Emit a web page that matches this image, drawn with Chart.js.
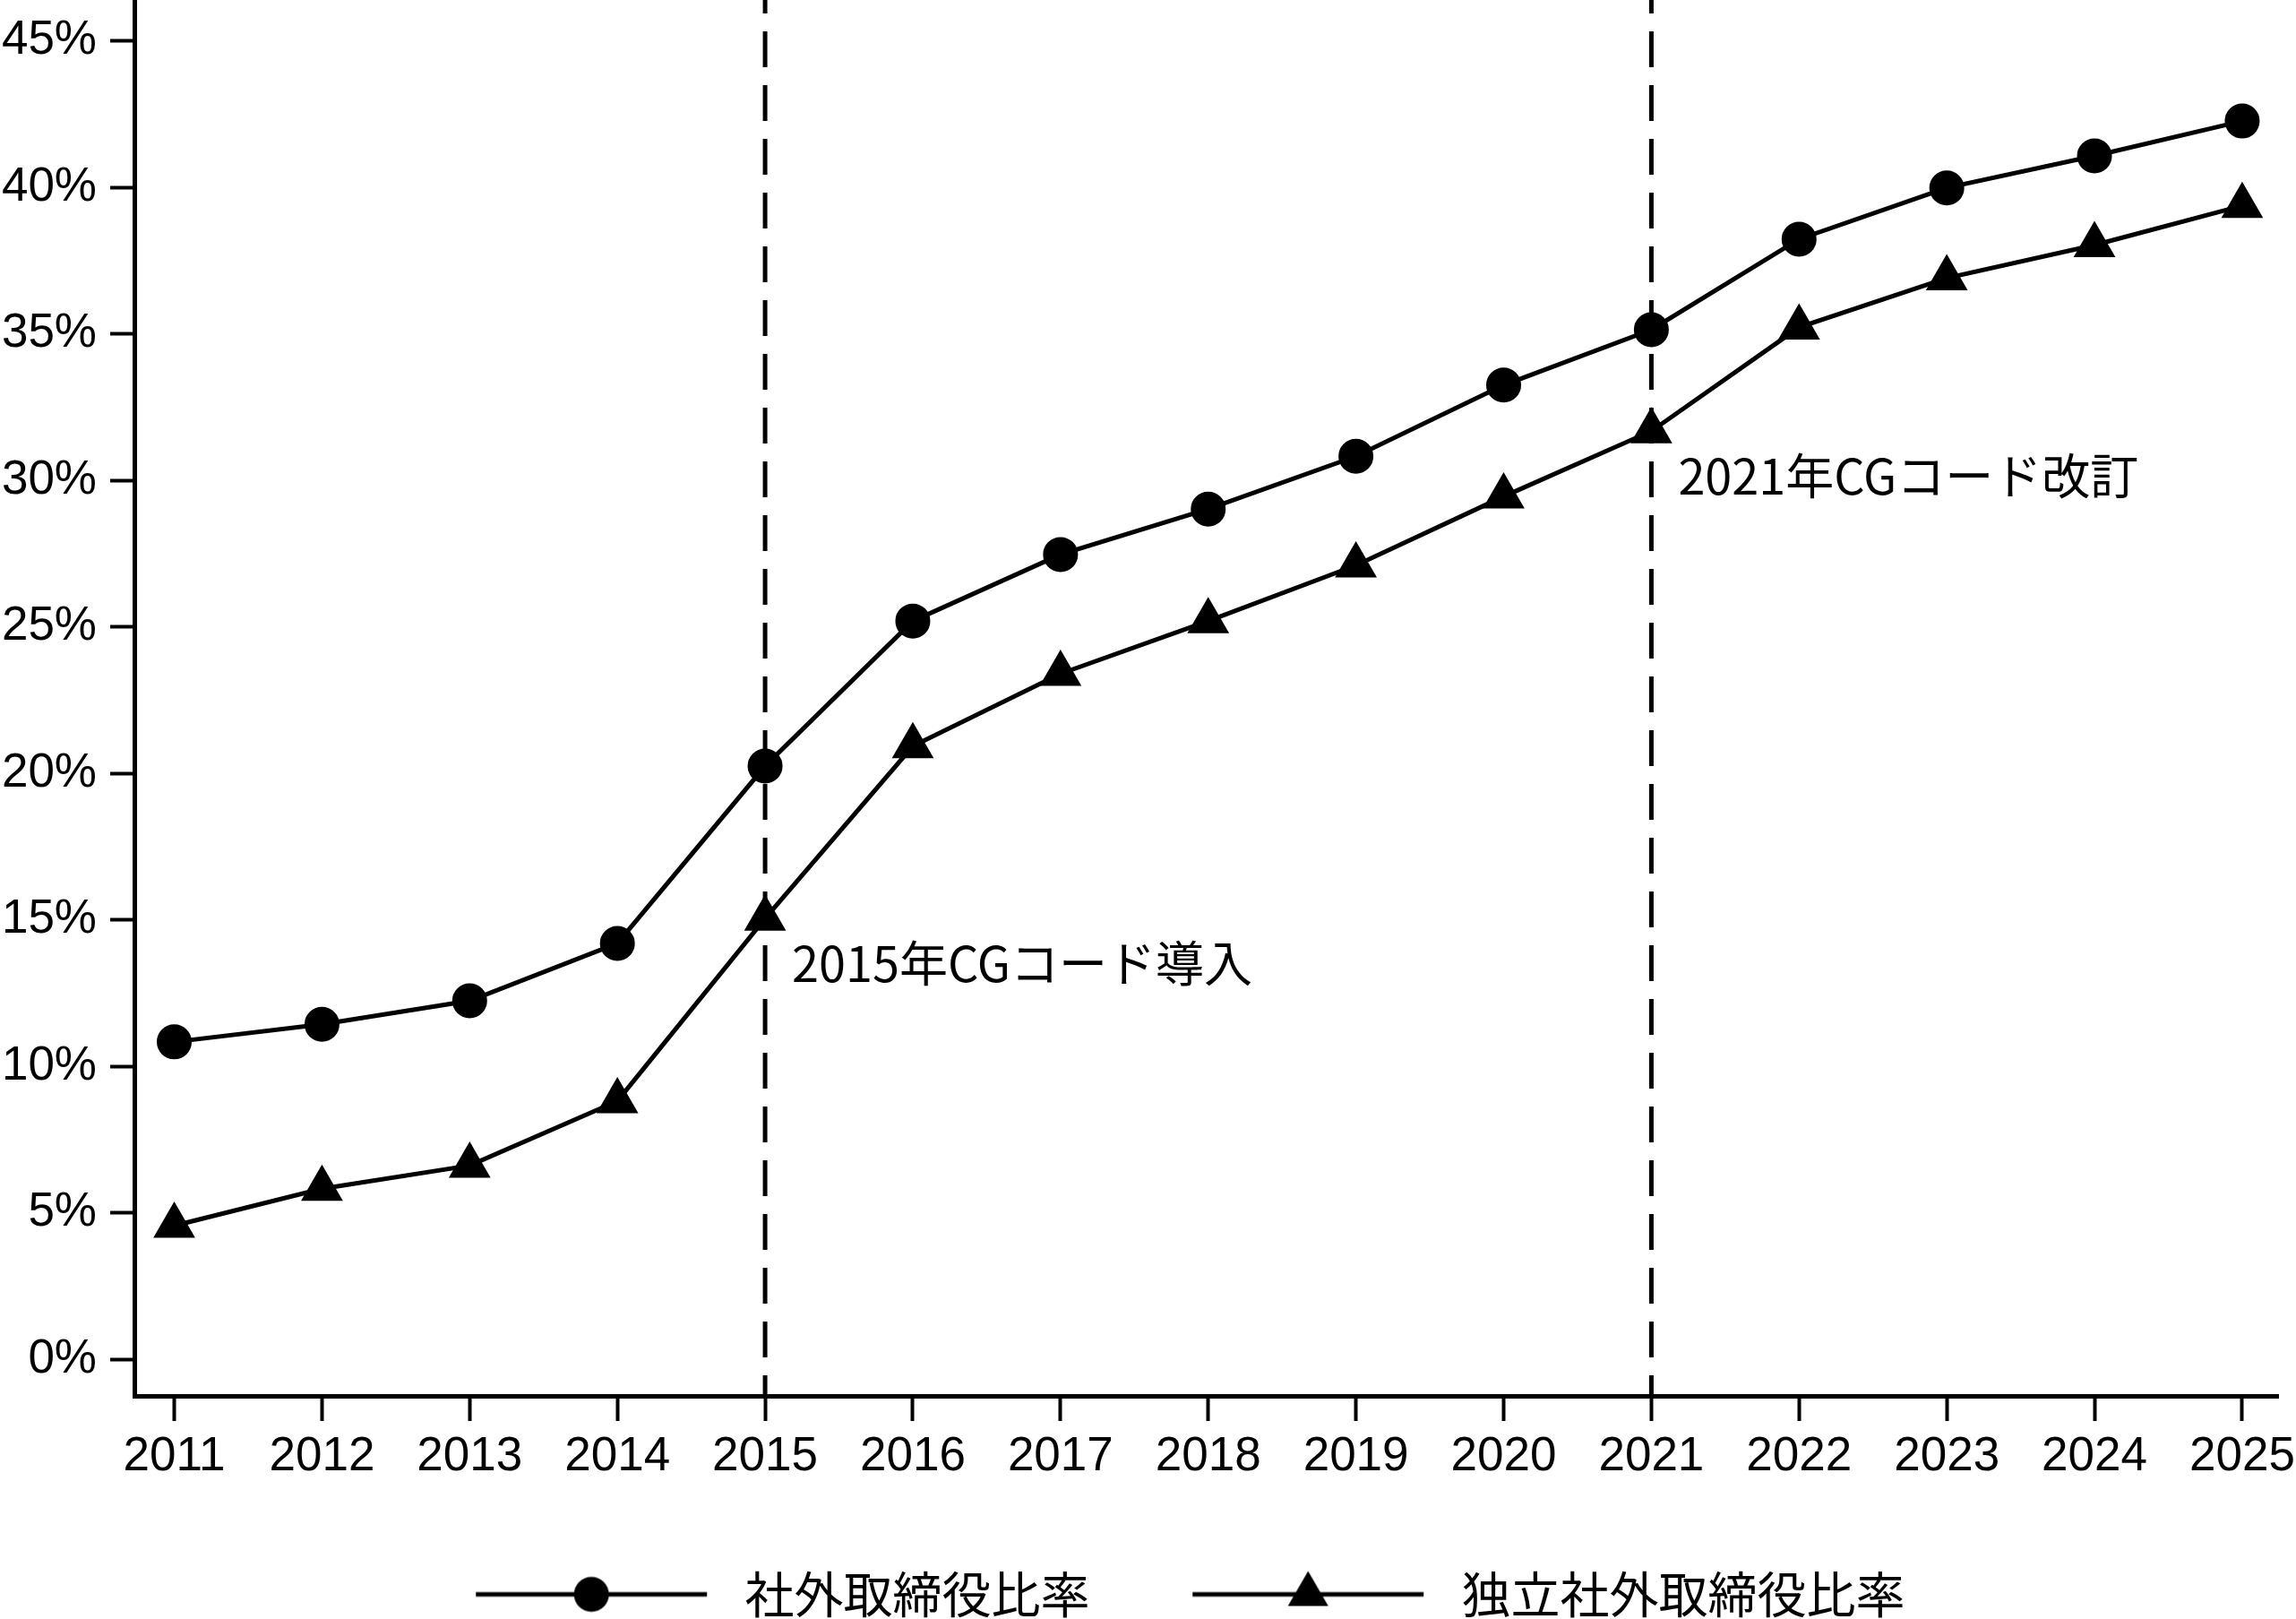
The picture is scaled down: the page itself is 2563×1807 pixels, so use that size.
<!DOCTYPE html>
<html lang="ja">
<head>
<meta charset="utf-8">
<title>社外取締役比率の推移</title>
<script src="https://cdn.jsdelivr.net/npm/chart.js@4.4.1/dist/chart.umd.min.js"></script>
<style>
  html, body { margin: 0; padding: 0; background: #fff; }
  canvas { display: block; }
</style>
</head>
<body>
<canvas id="boardChart" width="2563" height="1807"></canvas>
<script>
// データ
const years = [2011, 2012, 2013, 2014, 2015, 2016, 2017, 2018, 2019, 2020, 2021, 2022, 2023, 2024, 2025];
const outsideRatio = [10.84, 11.44, 12.24, 14.2, 20.25, 25.2, 27.47, 29.02, 30.82, 33.25, 35.14, 38.23, 39.98, 41.07, 42.26];
const independentRatio = [4.57, 5.83, 6.62, 8.82, 15.05, 20.93, 23.4, 25.2, 27.1, 29.45, 31.68, 35.22, 36.9, 38.03, 39.37];
const seriesNames = ["社外取締役比率", "独立社外取締役比率"];
const yTicks = [0, 5, 10, 15, 20, 25, 30, 35, 40, 45];

// CGコードの年と注記
const codeYears = [2015, 2021];
const codeLabels = ["2015年CGコード導入", "2021年CGコード改訂"];
const codeLabelLevels = [13.5, 30.15]; // 注記の縦位置(%)

const LATIN = '"Liberation Sans", Arial, Helvetica, sans-serif';
const CJK = '"Noto Sans CJK JP", "Noto Sans", sans-serif';

// 凡例用アイコン(線＋マーカー)、幅は凡例のボックス幅と同じ
const ICON_W = 387.5;
function makeIcon(style) {
  const c = document.createElement("canvas");
  c.width = 388;
  c.height = 60;
  const g = c.getContext("2d");
  const cy = 30, cx = 244;
  g.strokeStyle = "#000";
  g.fillStyle = "#000";
  g.lineWidth = 5;
  g.beginPath();
  g.moveTo(115, cy);
  g.lineTo(373, cy);
  g.stroke();
  g.beginPath();
  if (style === "circle") {
    g.arc(cx, cy, 19.5, 0, Math.PI * 2);
  } else {
    const r = 26;
    g.moveTo(cx, cy - r);
    g.lineTo(cx + r * Math.sin(2 * Math.PI / 3), cy + r / 2);
    g.lineTo(cx - r * Math.sin(2 * Math.PI / 3), cy + r / 2);
    g.closePath();
  }
  g.fill();
  return c;
}
const legendIcons = [makeIcon("circle"), makeIcon("triangle")];

// 縦の破線と注記
const codeLines = {
  id: "codeLines",
  beforeDatasetsDraw(chart) {
    const { ctx, chartArea, scales } = chart;
    ctx.save();
    ctx.strokeStyle = "#000";
    ctx.lineWidth = 5;
    ctx.setLineDash([40, 20]);
    ctx.lineDashOffset = 25;
    codeYears.forEach(yr => {
      const x = scales.x.getPixelForValue(yr);
      ctx.beginPath();
      ctx.moveTo(x, chartArea.top);
      ctx.lineTo(x, chartArea.bottom);
      ctx.stroke();
    });
    ctx.restore();
  },
  afterDatasetsDraw(chart) {
    const { ctx, scales } = chart;
    ctx.save();
    ctx.fillStyle = "#000";
    ctx.font = "54px " + CJK;
    ctx.textAlign = "left";
    ctx.textBaseline = "middle";
    codeYears.forEach((yr, i) => {
      const x = scales.x.getPixelForValue(yr) + 30;
      const y = scales.y.getPixelForValue(codeLabelLevels[i]);
      ctx.fillText(codeLabels[i], x, y);
    });
    ctx.restore();
  }
};

const noPad = s => { s.paddingTop = 0; s.paddingBottom = 0; s.paddingLeft = 0; s.paddingRight = 0; };
const toPoints = arr => years.map((yr, i) => ({ x: yr, y: arr[i] }));

new Chart(document.getElementById("boardChart"), {
  type: "line",
  data: {
    datasets: [
      {
        label: seriesNames[0],
        data: toPoints(outsideRatio),
        borderColor: "#000",
        backgroundColor: "#000",
        borderWidth: 5,
        pointStyle: "circle",
        pointRadius: 18,
        pointBorderWidth: 3,
        tension: 0,
        clip: false
      },
      {
        label: seriesNames[1],
        data: toPoints(independentRatio),
        borderColor: "#000",
        backgroundColor: "#000",
        borderWidth: 5,
        pointStyle: "triangle",
        pointRadius: 24,
        pointBorderWidth: 3,
        tension: 0,
        clip: false
      }
    ]
  },
  options: {
    responsive: false,
    devicePixelRatio: 1,
    animation: false,
    events: [],
    layout: {
      autoPadding: false,
      padding: { left: 0, right: 20, top: 0, bottom: 0 }
    },
    scales: {
      x: {
        type: "linear",
        min: 2010.73,
        max: 2025.243,
        afterBuildTicks: s => { s.ticks = years.map(v => ({ value: v })); },
        afterFit: s => { s.height = 194; noPad(s); },
        border: { display: true, color: "#000", width: 5 },
        grid: { drawOnChartArea: false, drawTicks: true, tickLength: 28, tickWidth: 4, tickColor: "#000" },
        ticks: {
          color: "#000",
          font: { family: LATIN, size: 53 },
          padding: 9,
          maxRotation: 0,
          autoSkip: false,
          callback: v => String(v)
        }
      },
      y: {
        min: -1.24,
        max: 46.39,
        afterBuildTicks: s => { s.ticks = yTicks.map(v => ({ value: v })); },
        afterFit: s => { s.width = 150; noPad(s); },
        border: { display: true, color: "#000", width: 5 },
        grid: { drawOnChartArea: false, drawTicks: true, tickLength: 27, tickWidth: 4, tickColor: "#000" },
        ticks: {
          color: "#000",
          font: { family: LATIN, size: 53 },
          padding: 15,
          callback: v => v + "%"
        }
      }
    },
    plugins: {
      tooltip: { enabled: false },
      legend: {
        position: "bottom",
        align: "center",
        maxHeight: 55,
        labels: {
          usePointStyle: true,
          pointStyleWidth: ICON_W,
          padding: 0,
          color: "#000",
          font: { family: CJK, size: 55 },
          generateLabels: chart => chart.data.datasets.map((ds, i) => ({
            text: ds.label,
            pointStyle: legendIcons[i],
            fillStyle: "#000",
            strokeStyle: "#000",
            lineWidth: 0,
            hidden: false,
            datasetIndex: i,
            fontColor: "#000"
          }))
        }
      }
    }
  },
  plugins: [codeLines]
});
</script>
</body>
</html>
